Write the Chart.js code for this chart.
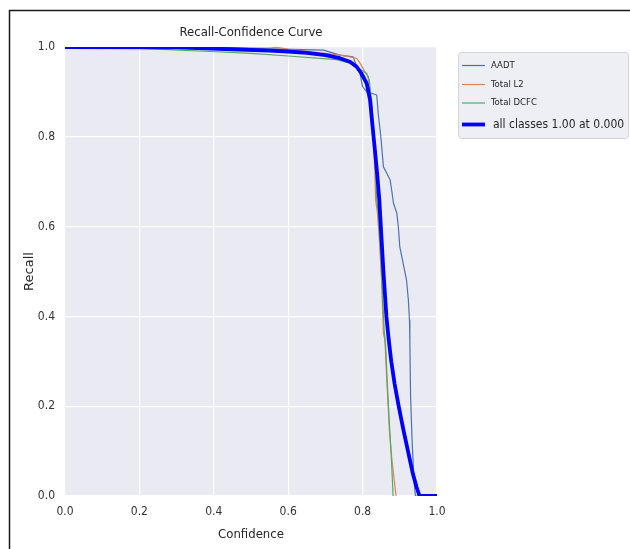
<!DOCTYPE html>
<html>
<head>
<meta charset="utf-8">
<script src="https://cdn.jsdelivr.net/npm/chart.js@4/dist/chart.umd.min.js"></script>
<style>
  html, body { margin: 0; padding: 0; background: #ffffff; }
  #wrap { position: relative; width: 630px; height: 549px; }
</style>
</head>
<body>
<div id="wrap"><canvas id="c" width="630" height="549"></canvas></div>
<script>
// ---- Data ----
const chartTitle = 'Recall-Confidence Curve';
const xAxisLabel = 'Confidence';
const yAxisLabel = 'Recall';
const tickValues = [0, 0.2, 0.4, 0.6, 0.8, 1.0];

const seriesNames = ['AADT', 'Total L2', 'Total DCFC', 'all classes 1.00 at 0.000'];

const aadtConf   = [0, 0.30, 0.50, 0.695, 0.739, 0.775, 0.784, 0.793, 0.800, 0.811, 0.824, 0.838, 0.842, 0.849, 0.856, 0.865, 0.874, 0.878, 0.883, 0.892, 0.896, 0.900, 0.909, 0.918, 0.923, 0.926, 0.927, 0.929, 0.933, 0.938, 0.942, 1.0];
const aadtRecall = [1.0, 1.0, 0.997, 0.993, 0.982, 0.978, 0.956, 0.941, 0.912, 0.900, 0.897, 0.893, 0.852, 0.800, 0.733, 0.719, 0.704, 0.682, 0.652, 0.630, 0.600, 0.555, 0.518, 0.481, 0.437, 0.392, 0.347, 0.221, 0.125, 0.036, 0.0, 0.0];

const l2Conf   = [0, 0.55, 0.578, 0.60, 0.70, 0.739, 0.784, 0.793, 0.806, 0.815, 0.824, 0.829, 0.833, 0.835, 0.840, 0.845, 0.851, 0.856, 0.860, 0.865, 0.872, 0.878, 0.884, 0.890];
const l2Recall = [1.0, 1.0, 0.998, 0.995, 0.986, 0.982, 0.975, 0.964, 0.945, 0.934, 0.867, 0.793, 0.719, 0.659, 0.630, 0.570, 0.481, 0.362, 0.347, 0.258, 0.147, 0.088, 0.043, 0.0];

const dcfcConf   = [0, 0.20, 0.39, 0.50, 0.60, 0.73, 0.766, 0.775, 0.797, 0.811, 0.818, 0.824, 0.829, 0.833, 0.838, 0.842, 0.849, 0.854, 0.858, 0.862, 0.866, 0.872, 0.878, 0.882];
const dcfcRecall = [1.0, 0.997, 0.990, 0.986, 0.980, 0.972, 0.964, 0.960, 0.949, 0.941, 0.926, 0.882, 0.822, 0.756, 0.659, 0.630, 0.533, 0.444, 0.370, 0.333, 0.258, 0.162, 0.073, 0.0];

const allConf   = [0, 0.30, 0.45, 0.55, 0.60, 0.65, 0.70, 0.739, 0.766, 0.784, 0.797, 0.811, 0.820, 0.826, 0.833, 0.839, 0.845, 0.849, 0.856, 0.864, 0.870, 0.877, 0.886, 0.897, 0.909, 0.922, 0.935, 0.945, 0.953, 1.0];
const allRecall = [1.0, 0.999, 0.995, 0.992, 0.990, 0.987, 0.982, 0.975, 0.967, 0.956, 0.941, 0.919, 0.882, 0.830, 0.771, 0.719, 0.659, 0.600, 0.500, 0.400, 0.350, 0.300, 0.250, 0.200, 0.150, 0.100, 0.050, 0.020, 0.0, 0.0];

// ---- Styling ----
const COND = "'DejaVu Sans Condensed', 'DejaVu Sans', sans-serif";
const REG = "'DejaVu Sans', sans-serif";
const TEXT = '#262626';
const colors = ['#4c72b0', '#dd8452', '#55a868', '#0000ff'];
const widths = [1.2, 1.2, 1.2, 3.8];

function pts(xs, ys) { return xs.map((x, i) => ({ x: x, y: ys[i] })); }

const seriesData = [
  pts(aadtConf, aadtRecall),
  pts(l2Conf, l2Recall),
  pts(dcfcConf, dcfcRecall),
  pts(allConf, allRecall)
];

const datasets = seriesData.map((d, i) => ({
  label: seriesNames[i],
  data: d,
  borderColor: colors[i],
  backgroundColor: colors[i],
  borderWidth: widths[i],
  pointRadius: 0,
  tension: 0,
  fill: false,
  order: i === 3 ? 0 : 4 - i,
  borderJoinStyle: 'round'
}));

const decorPlugin = {
  id: 'decor',
  beforeDraw(chart) {
    const { ctx, chartArea: a } = chart;
    ctx.save();
    ctx.fillStyle = '#ffffff';
    ctx.fillRect(0, 0, chart.width, chart.height);
    // outer frame (top + left)
    ctx.strokeStyle = '#1a1a1a';
    ctx.lineWidth = 1.5;
    ctx.beginPath();
    ctx.moveTo(630, 10.5);
    ctx.lineTo(9.5, 10.5);
    ctx.lineTo(9.5, 549);
    ctx.stroke();
    // plot background
    ctx.fillStyle = '#eaeaf2';
    ctx.fillRect(a.left, a.top, a.right - a.left, a.bottom - a.top);
    ctx.restore();
  },
  afterDraw(chart) {
    const { ctx, chartArea: a } = chart;
    ctx.save();
    // title
    ctx.fillStyle = TEXT;
    ctx.font = '13px ' + COND;
    ctx.textAlign = 'center';
    ctx.textBaseline = 'middle';
    ctx.fillText(chartTitle, (a.left + a.right) / 2, 33);

    // legend box
    const bx = 458.5, by = 52.5, bw = 170, bh = 86, r = 3;
    ctx.beginPath();
    ctx.moveTo(bx + r, by);
    ctx.lineTo(bx + bw - r, by);
    ctx.quadraticCurveTo(bx + bw, by, bx + bw, by + r);
    ctx.lineTo(bx + bw, by + bh - r);
    ctx.quadraticCurveTo(bx + bw, by + bh, bx + bw - r, by + bh);
    ctx.lineTo(bx + r, by + bh);
    ctx.quadraticCurveTo(bx, by + bh, bx, by + bh - r);
    ctx.lineTo(bx, by + r);
    ctx.quadraticCurveTo(bx, by, bx + r, by);
    ctx.closePath();
    ctx.fillStyle = 'rgba(234,234,242,0.8)';
    ctx.fill();
    ctx.strokeStyle = '#d4d4d8';
    ctx.lineWidth = 1;
    ctx.stroke();

    const rowsY = [65.5, 84.5, 103, 124.5];
    const fonts = ['9.5px ', '9.5px ', '9.5px ', '12px '];
    const textX = [491, 491, 491, 493];
    chart.data.datasets.forEach((ds, i) => {
      ctx.strokeStyle = ds.borderColor;
      ctx.lineWidth = ds.borderWidth;
      ctx.lineCap = 'butt';
      ctx.beginPath();
      ctx.moveTo(462, rowsY[i]);
      ctx.lineTo(485, rowsY[i]);
      ctx.stroke();
      ctx.fillStyle = TEXT;
      ctx.font = fonts[i] + COND;
      ctx.textAlign = 'left';
      ctx.textBaseline = 'middle';
      ctx.fillText(ds.label, textX[i], rowsY[i]);
    });
    ctx.restore();
  }
};

const tickFmt = v => Number(v).toFixed(1);

new Chart(document.getElementById('c'), {
  type: 'line',
  data: { datasets: datasets },
  plugins: [decorPlugin],
  options: {
    responsive: false,
    animation: false,
    devicePixelRatio: 1,
    layout: { padding: { left: 0, top: 47, right: 193, bottom: 0 } },
    plugins: {
      legend: { display: false },
      title: { display: false },
      tooltip: { enabled: false }
    },
    scales: {
      x: {
        type: 'linear',
        min: 0, max: 1,
        afterFit(s) { s.height = 53; },
        afterBuildTicks(s) { s.ticks = tickValues.map(v => ({ value: v })); },
        grid: { color: '#ffffff', lineWidth: 1.2, drawTicks: false },
        border: { display: false },
        ticks: { padding: 9, color: '#333333', font: { family: COND, size: 12 }, callback: tickFmt, maxRotation: 0 },
        title: { display: true, text: xAxisLabel, color: TEXT, font: { family: COND, size: 13 }, padding: { top: 0, bottom: 7 } }
      },
      y: {
        type: 'linear',
        min: 0, max: 1,
        afterFit(s) { s.width = 65; },
        afterBuildTicks(s) { s.ticks = tickValues.map(v => ({ value: v })); },
        grid: { color: '#ffffff', lineWidth: 1.2, drawTicks: false },
        border: { display: false },
        ticks: { padding: 10, color: '#333333', font: { family: COND, size: 12 }, callback: tickFmt },
        title: { display: true, text: yAxisLabel, color: TEXT, font: { family: REG, size: 13 }, padding: { top: 22, bottom: 0 } }
      }
    }
  }
});
</script>
</body>
</html>
